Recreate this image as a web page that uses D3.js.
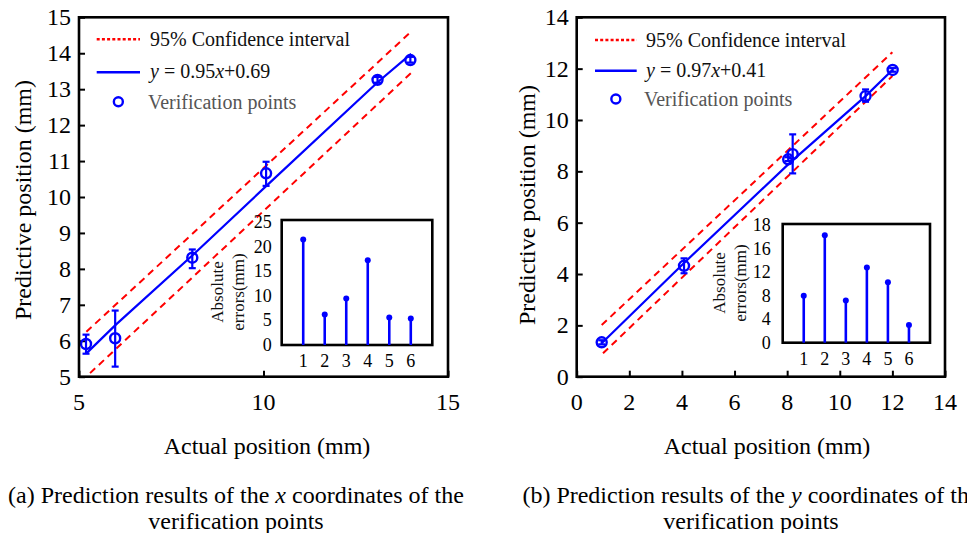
<!DOCTYPE html>
<html>
<head>
<meta charset="utf-8">
<script src="https://cdn.jsdelivr.net/npm/d3@7"></script>
<style>
  body { margin: 0; background: #fff; }
  svg { display: block; font-family: "Liberation Serif", "Times New Roman", serif; }
</style>
</head>
<body>
<div id="chart"></div>
<script>
// ---- panel (a): x coordinates ----
const aPointX = [5.19, 5.98, 8.07, 10.07, 13.09, 13.98];
const aPointY = [5.91, 6.07, 8.31, 10.66, 13.26, 13.81];
const aErrLow = [5.64, 5.28, 8.02, 10.31, 13.18, 13.74];
const aErrHigh = [6.17, 6.84, 8.54, 10.98, 13.34, 13.9];
const aFitX = [5.2, 6.0, 8.1, 10.1, 13.1, 14.0];
const aFitY = [5.65, 6.45, 8.4, 10.33, 13.2, 13.98];
const aUpperX = [5.2, 14.0];
const aUpperY = [6.25, 14.6];
const aLowerX = [5.3, 14.0];
const aLowerY = [5.1, 13.45];
const aAbsErrors = [21.5, 6.2, 9.5, 17.3, 5.6, 5.4];
const aXTicks = [5, 10, 15];
const aYTicks = [5, 6, 7, 8, 9, 10, 11, 12, 13, 14, 15];
const aInsetYTicks = [0, 5, 10, 15, 20, 25];
const aInsetYLabels = ["0", "5", "10", "15", "20", "25"];
const aFitLabel = ["0.95", "0.69"];

// ---- panel (b): y coordinates ----
const bPointX = [0.95, 4.08, 8.04, 8.21, 10.98, 12.01];
const bPointY = [1.34, 4.32, 8.47, 8.67, 10.93, 11.95];
const bErrLow = [1.26, 4.03, 8.4, 7.92, 10.71, 11.88];
const bErrHigh = [1.42, 4.61, 8.55, 9.44, 11.19, 12.02];
const bFitX = [0.95, 4.1, 8.1, 11.0, 12.0];
const bFitY = [1.3, 4.45, 8.33, 10.95, 11.95];
const bUpperX = [0.95, 12.0];
const bUpperY = [2.01, 12.64];
const bLowerX = [1.0, 12.0];
const bLowerY = [0.91, 11.71];
const bAbsErrors = [8.0, 18.3, 7.2, 12.8, 10.3, 3.0];
const bXTicks = [0, 2, 4, 6, 8, 10, 12, 14];
const bYTicks = [0, 2, 4, 6, 8, 10, 12, 14];
// the top inset tick is printed as "18" in the original figure
const bInsetYTicks = [0, 4, 8, 12, 16, 20];
const bInsetYLabels = ["0", "4", "8", "12", "16", "18"];
const bFitLabel = ["0.97", "0.41"];

const insetCats = [1, 2, 3, 4, 5, 6];

const BLUE = "#0000ff";
const RED = "#ff0000";

const svg = d3.select("#chart").append("svg")
  .attr("width", 967)
  .attr("height", 533);

function zip(xs, ys) {
  return xs.map((x, i) => [x, ys[i]]);
}

function drawPanel(p) {
  const g = svg.append("g");
  const x = d3.scaleLinear().domain(p.xDomain).range([p.frame.left, p.frame.right]);
  const y = d3.scaleLinear().domain(p.yDomain).range([p.frame.bottom, p.frame.top]);

  // inward ticks
  g.append("g")
    .attr("transform", `translate(0,${p.frame.bottom})`)
    .call(d3.axisTop(x).tickValues(p.xTicks).tickSize(6).tickFormat(""))
    .call((a) => a.select(".domain").remove())
    .selectAll("line").attr("stroke", "#000").attr("stroke-width", 2);
  g.append("g")
    .attr("transform", `translate(${p.frame.left},0)`)
    .call(d3.axisRight(y).tickValues(p.yTicks).tickSize(6).tickFormat(""))
    .call((a) => a.select(".domain").remove())
    .selectAll("line").attr("stroke", "#000").attr("stroke-width", 2);

  // tick labels
  g.selectAll(".xl").data(p.xTicks).enter().append("text")
    .attr("x", (d) => x(d))
    .attr("y", 410)
    .attr("text-anchor", "middle")
    .attr("font-size", 24)
    .text((d) => d);
  g.selectAll(".yl").data(p.yTicks).enter().append("text")
    .attr("x", p.frame.left - 8)
    .attr("y", (d) => y(d) + 8)
    .attr("text-anchor", "end")
    .attr("font-size", 24)
    .text((d) => d);

  // axis titles
  g.append("text")
    .attr("x", p.xTitleX)
    .attr("y", 454)
    .attr("text-anchor", "middle")
    .attr("font-size", 24)
    .text("Actual position (mm)");
  g.append("text")
    .attr("transform", `translate(${p.yTitleX},${p.yTitleY}) rotate(-90)`)
    .attr("text-anchor", "middle")
    .attr("font-size", 24)
    .text("Predictive position (mm)");

  const line = d3.line().x((d) => x(d[0])).y((d) => y(d[1]));

  // confidence interval
  [zip(p.upperX, p.upperY), zip(p.lowerX, p.lowerY)].forEach((pts) => {
    g.append("path")
      .attr("d", line(pts))
      .attr("fill", "none")
      .attr("stroke", RED)
      .attr("stroke-width", 2)
      .attr("stroke-dasharray", "7,5");
  });

  // fitted line
  g.append("path")
    .attr("d", line(zip(p.fitX, p.fitY)))
    .attr("fill", "none")
    .attr("stroke", BLUE)
    .attr("stroke-width", 2.2);

  // error bars
  const pts = p.pointX.map((d, i) => ({ x: d, y: p.pointY[i], lo: p.errLow[i], hi: p.errHigh[i] }));
  const eb = g.selectAll(".eb").data(pts).enter().append("g");
  eb.append("line")
    .attr("x1", (d) => x(d.x)).attr("x2", (d) => x(d.x))
    .attr("y1", (d) => y(d.lo)).attr("y2", (d) => y(d.hi))
    .attr("stroke", BLUE).attr("stroke-width", 2.2);
  ["lo", "hi"].forEach((k) => {
    eb.append("line")
      .attr("x1", (d) => x(d.x) - 3.5).attr("x2", (d) => x(d.x) + 3.5)
      .attr("y1", (d) => y(d[k])).attr("y2", (d) => y(d[k]))
      .attr("stroke", BLUE).attr("stroke-width", 2.2);
  });
  eb.append("circle")
    .attr("cx", (d) => x(d.x))
    .attr("cy", (d) => y(d.y))
    .attr("r", 5)
    .attr("fill", "none")
    .attr("stroke", BLUE)
    .attr("stroke-width", 2.4);

  // frame
  g.append("rect")
    .attr("x", p.frame.left).attr("y", p.frame.top)
    .attr("width", p.frame.right - p.frame.left)
    .attr("height", p.frame.bottom - p.frame.top)
    .attr("fill", "none").attr("stroke", "#000").attr("stroke-width", 2.6);

  // legend
  const L = p.legend;
  g.append("line")
    .attr("x1", L.x0).attr("x2", L.x1).attr("y1", L.y[0]).attr("y2", L.y[0])
    .attr("stroke", RED).attr("stroke-width", 2.5).attr("stroke-dasharray", "3,2.2");
  g.append("text")
    .attr("x", L.tx).attr("y", L.y[0] + 7)
    .attr("font-size", 20).attr("fill", "#111")
    .text("95% Confidence interval");
  g.append("line")
    .attr("x1", L.x0).attr("x2", L.x1).attr("y1", L.y[1]).attr("y2", L.y[1])
    .attr("stroke", BLUE).attr("stroke-width", 2.6);
  const ft = g.append("text")
    .attr("x", L.tx).attr("y", L.y[1] + 6)
    .attr("font-size", 20).attr("fill", "#111");
  ft.append("tspan").attr("font-style", "italic").text("y");
  ft.append("tspan").text(` = ${p.fitLabel[0]}`);
  ft.append("tspan").attr("font-style", "italic").text("x");
  ft.append("tspan").text(`+${p.fitLabel[1]}`);
  g.append("circle")
    .attr("cx", (L.x0 + L.x1) / 2).attr("cy", L.y[2])
    .attr("r", 4.5).attr("fill", "none").attr("stroke", BLUE).attr("stroke-width", 2.4);
  g.append("text")
    .attr("x", L.tx - 2).attr("y", L.y[2] + 7)
    .attr("font-size", 20).attr("fill", "#555")
    .text("Verification points");

  // inset stem chart
  const I = p.inset;
  const ix = d3.scaleLinear().domain([0, 7]).range([I.left, I.right]);
  const iy = d3.scaleLinear().domain([0, I.max]).range([I.bottom, I.top]);
  const ig = g.append("g");
  ig.append("rect")
    .attr("x", I.left).attr("y", I.top)
    .attr("width", I.right - I.left).attr("height", I.bottom - I.top)
    .attr("fill", "#fff").attr("stroke", "#000").attr("stroke-width", 2.6);
  const stems = ig.selectAll(".stem").data(p.absErrors).enter().append("g");
  stems.append("line")
    .attr("x1", (d, i) => ix(insetCats[i])).attr("x2", (d, i) => ix(insetCats[i]))
    .attr("y1", iy(0)).attr("y2", (d) => iy(d))
    .attr("stroke", BLUE).attr("stroke-width", 2.6);
  stems.append("circle")
    .attr("cx", (d, i) => ix(insetCats[i])).attr("cy", (d) => iy(d))
    .attr("r", 3).attr("fill", BLUE);
  ig.selectAll(".ixl").data(insetCats).enter().append("text")
    .attr("x", (d) => ix(d)).attr("y", I.bottom + 22)
    .attr("text-anchor", "middle").attr("font-size", 18)
    .text((d) => d);
  ig.selectAll(".iyl").data(p.insetYTicks).enter().append("text")
    .attr("x", I.left - I.labelGap).attr("y", (d) => iy(d) + 6)
    .attr("text-anchor", "end").attr("font-size", 18)
    .text((d, i) => p.insetYLabels[i]);
  ["Absolute", "errors(mm)"].forEach((t, k) => {
    ig.append("text")
      .attr("transform", `translate(${I.titleX[k]},${I.titleY}) rotate(-90)`)
      .attr("text-anchor", "middle").attr("font-size", 17).attr("fill", "#111")
      .text(t);
  });

  // caption
  const cap = g.append("text")
    .attr("x", p.captionX).attr("y", 503)
    .attr("text-anchor", "middle").attr("font-size", 24);
  cap.append("tspan").text(`(${p.tag}) Prediction results of the `);
  cap.append("tspan").attr("font-style", "italic").text(p.coord);
  cap.append("tspan").text(" coordinates of the");
  g.append("text")
    .attr("x", p.captionX).attr("y", 529)
    .attr("text-anchor", "middle").attr("font-size", 24)
    .text("verification points");
}

drawPanel({
  tag: "a", coord: "x",
  frame: { left: 79, top: 17.3, right: 448, bottom: 376.7 },
  xDomain: [5, 15], yDomain: [5, 15],
  xTicks: aXTicks, yTicks: aYTicks,
  pointX: aPointX, pointY: aPointY, errLow: aErrLow, errHigh: aErrHigh,
  fitX: aFitX, fitY: aFitY,
  upperX: aUpperX, upperY: aUpperY, lowerX: aLowerX, lowerY: aLowerY,
  fitLabel: aFitLabel,
  absErrors: aAbsErrors, insetYTicks: aInsetYTicks, insetYLabels: aInsetYLabels,
  xTitleX: 267, yTitleX: 31, yTitleY: 200,
  legend: { x0: 96.7, x1: 140, tx: 150, y: [39.3, 72.3, 101.7] },
  inset: { left: 281.7, top: 220, right: 432.3, bottom: 345, max: 25.5, labelGap: 10,
           titleX: [222.7, 244], titleY: 292 },
  captionX: 236
});

drawPanel({
  tag: "b", coord: "y",
  frame: { left: 576.7, top: 17.3, right: 945, bottom: 376.7 },
  xDomain: [0, 14], yDomain: [0, 14],
  xTicks: bXTicks, yTicks: bYTicks,
  pointX: bPointX, pointY: bPointY, errLow: bErrLow, errHigh: bErrHigh,
  fitX: bFitX, fitY: bFitY,
  upperX: bUpperX, upperY: bUpperY, lowerX: bLowerX, lowerY: bLowerY,
  fitLabel: bFitLabel,
  absErrors: bAbsErrors, insetYTicks: bInsetYTicks, insetYLabels: bInsetYLabels,
  xTitleX: 767, yTitleX: 535, yTitleY: 205,
  legend: { x0: 595, x1: 636.7, tx: 646, y: [40, 70.7, 99] },
  inset: { left: 782.7, top: 224, right: 930, bottom: 342.7, max: 20.2, labelGap: 12,
           titleX: [725, 746], titleY: 283 },
  captionX: 751
});
</script>
</body>
</html>
